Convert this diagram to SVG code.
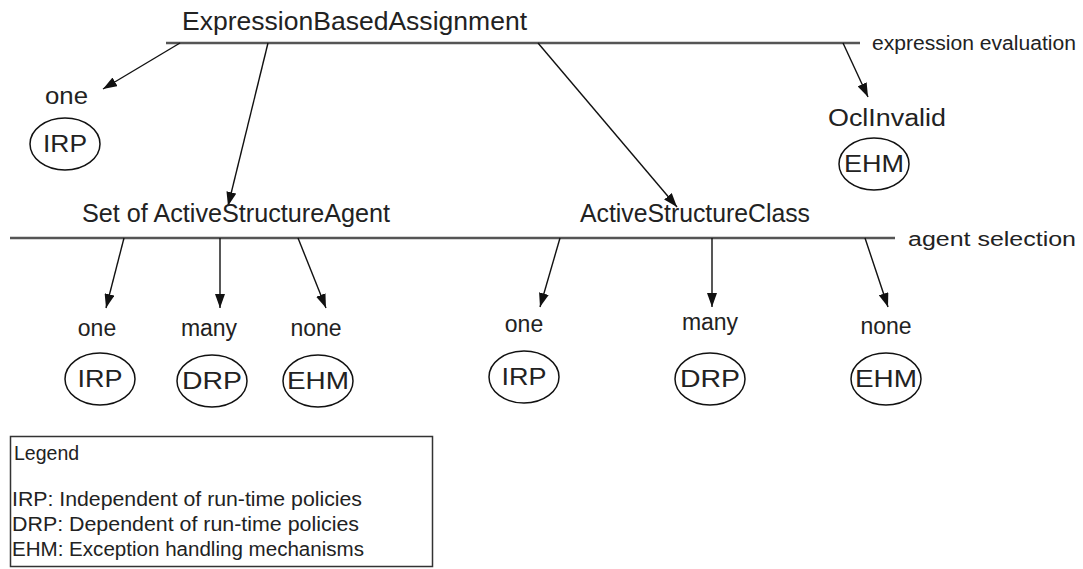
<svg xmlns="http://www.w3.org/2000/svg" width="1083" height="569" viewBox="0 0 1083 569">
  <style>
    text { font-family: "Liberation Sans", Arial, sans-serif; fill: #222; }
    .title { font-size: 25px; }
    .lbl { font-size: 23px; }
    .in { font-size: 24px; text-anchor: middle; }
    .note { font-size: 20px; }
    .leg { font-size: 19.5px; }
    .bar { stroke: #555; stroke-width: 2.5; fill: none; }
    .arr { stroke: #111; stroke-width: 1.4; fill: none; marker-end: url(#head); }
    .ell { stroke: #111; stroke-width: 1.5; fill: #fff; }
  </style>
  <defs>
    <marker id="head" viewBox="0 0 14 10" refX="14" refY="5" markerWidth="14" markerHeight="10" markerUnits="userSpaceOnUse" orient="auto">
      <path d="M0,0 L14,5 L0,10 z" fill="#111"/>
    </marker>
  </defs>

  <rect width="1083" height="569" fill="#fff"/>

  <!-- evaluation levels -->
  <g id="levels">
    <line class="bar" x1="166" y1="43" x2="860" y2="43"/>
    <text class="note" x="872" y="50" textLength="204" lengthAdjust="spacingAndGlyphs">expression evaluation</text>
    <line class="bar" x1="10" y1="238" x2="895" y2="238"/>
    <text class="note" x="908" y="246" textLength="168" lengthAdjust="spacingAndGlyphs">agent selection</text>
  </g>

  <g id="connectors">
    <line class="arr" x1="180" y1="43" x2="103" y2="89"/>
    <line class="arr" x1="268" y1="43" x2="228" y2="206"/>
    <line class="arr" x1="538" y1="43" x2="677" y2="207"/>
    <line class="arr" x1="843" y1="43" x2="868" y2="97"/>
    <line class="arr" x1="124" y1="238" x2="106" y2="308"/>
    <line class="arr" x1="220" y1="238" x2="220" y2="308"/>
    <line class="arr" x1="298" y1="238" x2="326" y2="308"/>
    <line class="arr" x1="560" y1="238" x2="540" y2="307"/>
    <line class="arr" x1="712" y1="238" x2="712" y2="307"/>
    <line class="arr" x1="865" y1="238" x2="888" y2="307"/>
  </g>

  <g id="expression-based-assignment">
    <text class="title" x="182" y="30" textLength="345" lengthAdjust="spacingAndGlyphs">ExpressionBasedAssignment</text>
  </g>

  <g id="top-one">
    <text class="lbl" x="45" y="104" textLength="43" lengthAdjust="spacingAndGlyphs">one</text>
    <ellipse class="ell" cx="65" cy="144" rx="35" ry="26"/>
    <text class="in" x="65" y="152" textLength="44" lengthAdjust="spacingAndGlyphs">IRP</text>
  </g>

  <g id="ocl-invalid">
    <text class="lbl" x="828" y="126" textLength="118" lengthAdjust="spacingAndGlyphs">OclInvalid</text>
    <ellipse class="ell" cx="874" cy="164" rx="35" ry="26"/>
    <text class="in" x="874" y="172" textLength="60" lengthAdjust="spacingAndGlyphs">EHM</text>
  </g>

  <g id="set-of-agents">
    <text class="title" x="82" y="222" textLength="308" lengthAdjust="spacingAndGlyphs">Set of ActiveStructureAgent</text>
  </g>

  <g id="active-structure-class">
    <text class="title" x="580" y="222" textLength="230" lengthAdjust="spacingAndGlyphs">ActiveStructureClass</text>
  </g>

  <g id="set-one">
    <text class="lbl" x="97" y="336" text-anchor="middle">one</text>
    <ellipse class="ell" cx="100" cy="379" rx="35" ry="26"/>
    <text class="in" x="100" y="387" textLength="45" lengthAdjust="spacingAndGlyphs">IRP</text>
  </g>
  <g id="set-many">
    <text class="lbl" x="209" y="336" text-anchor="middle">many</text>
    <ellipse class="ell" cx="212" cy="381" rx="35" ry="26"/>
    <text class="in" x="212" y="389" textLength="60" lengthAdjust="spacingAndGlyphs">DRP</text>
  </g>
  <g id="set-none">
    <text class="lbl" x="316" y="336" text-anchor="middle">none</text>
    <ellipse class="ell" cx="318" cy="381" rx="35" ry="26"/>
    <text class="in" x="318" y="389" textLength="62" lengthAdjust="spacingAndGlyphs">EHM</text>
  </g>

  <g id="class-one">
    <text class="lbl" x="524" y="332" text-anchor="middle">one</text>
    <ellipse class="ell" cx="524" cy="377" rx="35" ry="26"/>
    <text class="in" x="524" y="385" textLength="45" lengthAdjust="spacingAndGlyphs">IRP</text>
  </g>
  <g id="class-many">
    <text class="lbl" x="710" y="330" text-anchor="middle">many</text>
    <ellipse class="ell" cx="710" cy="379" rx="35" ry="26"/>
    <text class="in" x="710" y="387" textLength="60" lengthAdjust="spacingAndGlyphs">DRP</text>
  </g>
  <g id="class-none">
    <text class="lbl" x="886" y="334" text-anchor="middle">none</text>
    <ellipse class="ell" cx="886" cy="379" rx="35" ry="26"/>
    <text class="in" x="886" y="387" textLength="62" lengthAdjust="spacingAndGlyphs">EHM</text>
  </g>

  <g id="legend">
    <rect x="10.5" y="436.5" width="422" height="130" fill="#fff" stroke="#333" stroke-width="1.5"/>
    <text class="leg" x="14" y="460">Legend</text>
    <text class="leg" x="12" y="506" textLength="350" lengthAdjust="spacingAndGlyphs">IRP: Independent of run-time policies</text>
    <text class="leg" x="12" y="531" textLength="347" lengthAdjust="spacingAndGlyphs">DRP: Dependent of run-time policies</text>
    <text class="leg" x="12" y="556" textLength="352" lengthAdjust="spacingAndGlyphs">EHM: Exception handling mechanisms</text>
  </g>
</svg>
